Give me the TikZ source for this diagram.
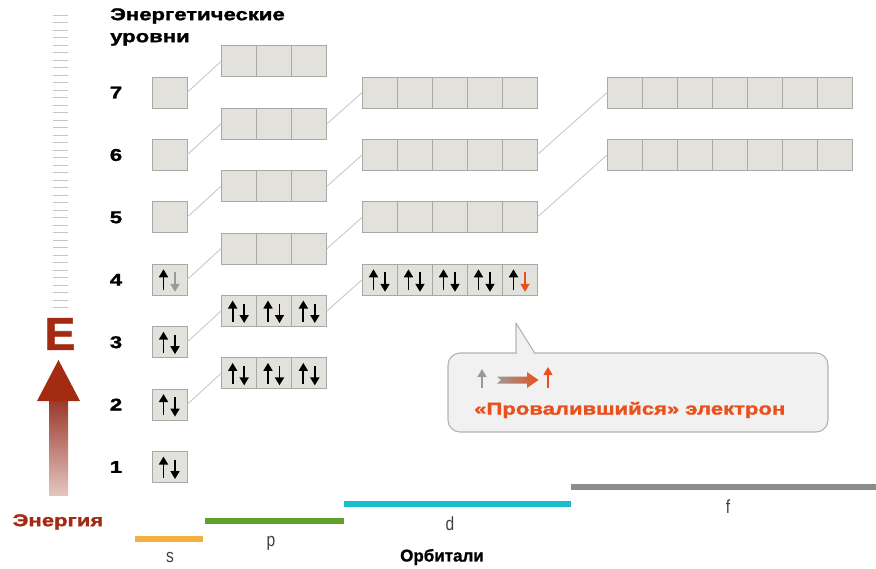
\documentclass[tikz,border=0pt]{standalone}
\usepackage{fontspec}
\setmainfont{Liberation Sans}
\newfontfamily\heavy[FakeStretch=1.3, BoldFeatures={FakeBold=1.6}]{Liberation Sans}
\newfontfamily\narrowf[FakeStretch=0.82]{Liberation Sans}
\newfontfamily\semiheavy[BoldFeatures={FakeBold=1.2}]{Liberation Sans}
\usetikzlibrary{arrows.meta}
\definecolor{boxfill}{HTML}{E3E1DC}
\definecolor{boxline}{HTML}{A8A8A4}
\definecolor{conn}{HTML}{C9C9C9}
\definecolor{tickc}{HTML}{C4C4C4}
\definecolor{eRed}{HTML}{A32B12}
\definecolor{shaftTop}{HTML}{9A3528}
\definecolor{shaftBot}{HTML}{E4C6C1}
\definecolor{orng}{HTML}{E8501E}
\definecolor{elgray}{HTML}{9A9A9A}
\definecolor{sbar}{HTML}{F2B13E}
\definecolor{pbar}{HTML}{5FA02A}
\definecolor{dbar}{HTML}{1BBCCC}
\definecolor{fbar}{HTML}{8C8C8C}
\definecolor{calloutfill}{HTML}{F1F1F1}
\definecolor{calloutline}{HTML}{B3B3B3}
\newcommand\elup[2][black]{\draw[el,#1] ([shift={(-6,10.5)}]#2.center) -- ++(0,-21);}
\newcommand\eldown[2][black]{\draw[el,#1] ([shift={(5.5,-7.5)}]#2.center) -- ++(0,19.5);}
\begin{document}
\begin{tikzpicture}[x=1pt,y=-1pt,
  cell/.style={draw=boxline, fill=boxfill, line width=1pt, minimum width=35pt,
    minimum height=31pt, inner sep=0pt, outer sep=0pt},
  link/.style={draw=conn, line width=0.9pt},
  el/.style={line width=1.7pt, -{Triangle[width=9pt,length=8pt]}},
  tickline/.style={draw=tickc, line width=0.8pt},
  num/.style={font=\heavy\bfseries\fontsize{17}{20}\selectfont, inner sep=0pt},
  heading/.style={font=\heavy\bfseries\fontsize{17}{22}\selectfont, inner sep=0pt},
  orb/.style={font=\narrowf\fontsize{19}{20}\selectfont, text=black!75, inner sep=0pt},
  bar/.style={line width=6pt}]
\useasboundingbox (0,0) rectangle (876,568);

% energy scale ticks
\foreach \i in {0,...,39} \draw[tickline] (53,{15+7.5*\i}) -- (68,{15+7.5*\i});

% big E and arrow
\node[font=\semiheavy\bfseries\fontsize{46}{46}\selectfont, text=eRed, inner sep=0pt] (E) at (60,334) {E};
\shade[top color=shaftTop, bottom color=shaftBot] (49,399) rectangle (68,495);
\fill[eRed] (37,401) -- (58.5,360) -- (80,401) -- cycle;
\node[heading, text=eRed] (energy) at (58,522) {Энергия};

% heading
\node[heading, anchor=west, align=left] (title) at (110,27) {Энергетические\\уровни};

% s boxes and numbers
\foreach \n in {1,...,7} {
  \pgfmathsetmacro\yy{467-(\n-1)*62.4}
  \node[cell] (s\n) at (169.5,\yy) {};
  \node[num] (n\n) at (116,\yy) {\n};
}
% p rows
\foreach \n in {2,...,7} {
  \pgfmathsetmacro\yy{467-(\n-1)*62.4-31.2}
  \foreach \k in {1,2,3} {
    \node[cell, minimum width=35.33pt] (p\n-\k) at ({221+35.33*(\k-0.5)},\yy) {};
  }
  \draw[link] (s\n.east) -- (p\n-1.west);
}
% d rows
\foreach \n in {3,...,6} {
  \pgfmathsetmacro\yy{467-\n*62.4}
  \foreach \k in {1,...,5} {
    \node[cell] (d\n-\k) at ({362+35*(\k-0.5)},\yy) {};
  }
  \draw[link] (p\n-3.east) -- (d\n-1.west);
}
% f rows
\foreach \n in {4,5} {
  \pgfmathsetmacro\yy{467-(\n+1)*62.4}
  \foreach \k in {1,...,7} {
    \node[cell] (f\n-\k) at ({607+35*(\k-0.5)},\yy) {};
  }
  \draw[link] (d\n-5.east) -- (f\n-1.west);
}

% electrons
\foreach \n in {1,2,3} {\elup{s\n} \eldown{s\n}}
\elup{s4} \eldown[elgray]{s4}
\foreach \n in {2,3} {\foreach \k in {1,2,3} {\elup{p\n-\k} \eldown{p\n-\k}}}
\foreach \k in {1,...,4} {\elup{d3-\k} \eldown{d3-\k}}
\elup{d3-5} \eldown[orng]{d3-5}

% callout
\filldraw[fill=calloutfill, draw=calloutline, line width=1.1pt, rounded corners=12pt]
  (448,353) rectangle (828,432);
\fill[calloutfill] (516.6,354) -- (516.6,323.5) -- (534.5,354) -- cycle;
\draw[calloutline, line width=1.1pt, line join=round] (516,353.5) -- (516,323) -- (535,353.5);
\draw[el, elgray, line width=1.3pt] (482,388) -- (482,369);
\shade[left color=elgray, right color=orng]
  (497,376.5) -- (527,376.5) -- (527,372) -- (538.5,380) -- (527,388) -- (527,383.5)
  -- (497,383.5) -- (501,380) -- cycle;
\draw[el, orng, line width=1.3pt] (548,388) -- (548,367);
\node[heading, text=orng, anchor=west] (fallen) at (474,410) {«Проваливший­ся» электрон};

% orbital bars
\draw[bar, sbar] (135,539) -- (203,539);
\draw[bar, pbar] (205,521) -- (344,521);
\draw[bar, dbar] (344,504) -- (571,504);
\draw[bar, fbar] (571,487) -- (876,487);
\node[orb] (ls) at (170,557) {s};
\node[orb] (lp) at (271,543) {p};
\node[orb] (ld) at (450,524) {d};
\node[orb] (lf) at (728,507) {f};
\node[font=\semiheavy\bfseries\fontsize{17}{20}\selectfont, inner sep=0pt] (orbitals) at (442,557) {Орбитали};
\end{tikzpicture}
\end{document}
